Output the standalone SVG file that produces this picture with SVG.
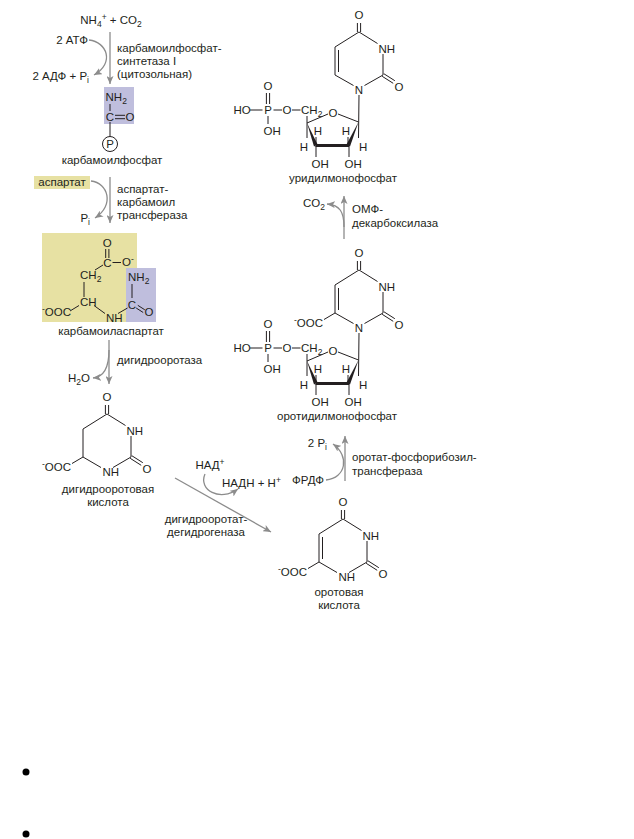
<svg xmlns="http://www.w3.org/2000/svg" width="634" height="839" viewBox="0 0 634 839">
<defs>
<style>
text{font-family:"Liberation Sans",Arial,sans-serif;font-size:11.5px;fill:#231f20}
.m{text-anchor:middle}
.e{text-anchor:end}
.b{stroke:#231f20;stroke-width:1;fill:none}
.bb{stroke:#231f20;stroke-width:3;fill:none}
.w{fill:#231f20;stroke:none}
.a{stroke:#8c8c8c;stroke-width:1.3;fill:none}
.s{font-size:8.5px}
</style>
<marker id="ah" markerUnits="userSpaceOnUse" markerWidth="9" markerHeight="7" refX="8" refY="3.5" orient="auto">
<path d="M0,0 L8,3.5 L0,7 L2,3.5 z" fill="#8c8c8c"/>
</marker>
</defs>
<rect width="634" height="839" fill="#ffffff"/>

<!-- connectors -->
<g id="connectors">
<line class="a" x1="110" y1="32" x2="110" y2="84" marker-end="url(#ah)"/>
<path class="a" d="M89,40 C107,42 115,63 94,75" marker-end="url(#ah)"/>
<line class="a" x1="110" y1="177" x2="110" y2="223" marker-end="url(#ah)"/>
<path class="a" d="M91,181 C108,183 115,205 95,218" marker-end="url(#ah)"/>
<line class="a" x1="109" y1="340" x2="109" y2="384" marker-end="url(#ah)"/>
<path class="a" d="M109,350 C109,366 104,377 93,378" marker-end="url(#ah)"/>
<line class="a" x1="175" y1="478" x2="271" y2="532" marker-end="url(#ah)"/>
<path class="a" d="M205,474 C198,490 220,502 238,489" marker-end="url(#ah)"/>
<line class="a" x1="345" y1="481" x2="345" y2="436" marker-end="url(#ah)"/>
<path class="a" d="M326,480 C346,478 350,456 333,444" marker-end="url(#ah)"/>
<line class="a" x1="344" y1="239" x2="344" y2="196" marker-end="url(#ah)"/>
<path class="a" d="M344,227 C344,212 340,205 327,204" marker-end="url(#ah)"/>
</g>

<!-- reaction labels -->
<g id="labels">
<text x="111" y="24" class="m">NH<tspan class="s" dy="3">4</tspan><tspan class="s" dy="-7">+</tspan><tspan dy="4"> + CO</tspan><tspan class="s" dy="3">2</tspan></text>
<text x="88" y="44" class="e">2 АТФ</text>
<text x="89" y="80" class="e">2 АДФ + P<tspan class="s" dy="3">i</tspan></text>
<text x="117" y="52">карбамоилфосфат-<tspan x="117" dy="13">синтетаза I</tspan><tspan x="117" dy="13">(цитозольная)</tspan></text>
<text x="90" y="222" class="e">P<tspan class="s" dy="3">i</tspan></text>
<text x="117" y="193">аспартат-<tspan x="117" dy="13">карбамоил</tspan><tspan x="117" dy="13">трансфераза</tspan></text>
<text x="117" y="364">дигидрооротаза</text>
<text x="90" y="382" class="e">H<tspan class="s" dy="3">2</tspan><tspan dy="-3">O</tspan></text>
<text x="210" y="469" class="m">НАД<tspan class="s" dy="-4">+</tspan></text>
<text x="222" y="487">НАДН + Н<tspan class="s" dy="-4">+</tspan></text>
<text x="206" y="523" class="m">дигидрооротат-<tspan x="206" dy="13">дегидрогеназа</tspan></text>
<text x="327" y="447" class="e">2 P<tspan class="s" dy="3">i</tspan></text>
<text x="324" y="484" class="e">ФРДФ</text>
<text x="352" y="461">оротат-фосфорибозил-<tspan x="352" dy="14">трансфераза</tspan></text>
<text x="325" y="207" class="e">CO<tspan class="s" dy="3">2</tspan></text>
<text x="352" y="213">ОМФ-<tspan x="352" dy="14">декарбоксилаза</tspan></text>
</g>

<!-- carbamoyl phosphate -->
<g id="carbamoylphosphate">
<rect x="104" y="87" width="30" height="37" fill="#bfbedd"/>
<text x="105.5" y="101">NH<tspan class="s" dy="3">2</tspan></text>
<line class="b" x1="110" y1="104" x2="110" y2="111"/>
<text x="110" y="121" class="m">C</text>
<line class="b" x1="115" y1="115.3" x2="125" y2="115.3"/>
<line class="b" x1="115" y1="118.7" x2="125" y2="118.7"/>
<text x="130" y="121" class="m">O</text>
<line class="b" x1="110" y1="122" x2="110" y2="136.5"/>
<circle cx="110" cy="144" r="7.5" fill="none" stroke="#231f20" stroke-width="1"/>
<text x="110" y="148" class="m">P</text>
<text x="112" y="164" class="m">карбамоилфосфат</text>
</g>

<!-- aspartate -->
<g id="aspartate">
<rect x="34" y="176" width="56" height="13" fill="#e7e1a3"/>
<text x="62" y="186" class="m">аспартат</text>
</g>

<!-- carbamoyl aspartate -->
<g id="carbamoylaspartate">
<rect x="42" y="233" width="95" height="89" fill="#e7e1a3"/>
<rect x="126" y="268" width="30" height="54" fill="#bfbedd"/>
<text x="107.3" y="247" class="m">O</text>
<line class="b" x1="105.7" y1="249" x2="105.7" y2="258"/>
<line class="b" x1="108.9" y1="249" x2="108.9" y2="258"/>
<text x="107.3" y="267" class="m">C</text>
<line class="b" x1="112.5" y1="262.5" x2="121" y2="262.5"/>
<text x="122" y="265.5">O<tspan class="s" dy="-4">-</tspan></text>
<line class="b" x1="95" y1="270" x2="103" y2="265"/>
<text x="80" y="279">CH<tspan class="s" dy="3">2</tspan></text>
<line class="b" x1="84" y1="282" x2="84" y2="297"/>
<text x="80" y="306">CH</text>
<text x="71" y="316" class="e"><tspan class="s" dy="-4">-</tspan><tspan dy="4">OOC</tspan></text>
<line class="b" x1="70" y1="311" x2="79" y2="305.5"/>
<line class="b" x1="94" y1="305.5" x2="105" y2="313.5"/>
<text x="106" y="322">NH</text>
<line class="b" x1="118" y1="313.5" x2="127.5" y2="308"/>
<text x="132" y="309" class="m">C</text>
<text x="128" y="281">NH<tspan class="s" dy="3">2</tspan></text>
<line class="b" x1="132" y1="284" x2="132" y2="298"/>
<line class="b" x1="137.8" y1="305.3" x2="144.8" y2="309.8"/>
<line class="b" x1="136.2" y1="308" x2="143.2" y2="312.5"/>
<text x="149" y="316" class="m">O</text>
<text x="111" y="335" class="m">карбамоиласпартат</text>
</g>

<!-- dihydroorotate -->
<g id="dihydroorotate">
<g transform="translate(107,414)">
<line class="b" x1="0" y1="0" x2="-24" y2="15"/>
<line class="b" x1="-24" y1="15" x2="-24" y2="43"/>
<line class="b" x1="-24" y1="43" x2="-6" y2="53.5"/>
<line class="b" x1="6" y1="53.5" x2="24" y2="43"/>
<line class="b" x1="24" y1="43" x2="24" y2="22"/>
<line class="b" x1="18.5" y1="11.5" x2="0" y2="0"/>
<line class="b" x1="-1.6" y1="-9" x2="-1.6" y2="0"/>
<line class="b" x1="1.6" y1="-9" x2="1.6" y2="0"/>
<line class="b" x1="23.2" y1="44.3" x2="34.2" y2="51.3"/>
<line class="b" x1="24.8" y1="41.7" x2="35.8" y2="48.7"/>
<line class="b" x1="-24" y1="43" x2="-35" y2="49.5"/>
<text x="0" y="-13" class="m">O</text>
<text x="19.5" y="21">NH</text>
<text x="40" y="59" class="m">O</text>
<text x="-4.5" y="62">NH</text>
<text x="-36" y="57" class="e"><tspan class="s" dy="-4">-</tspan><tspan dy="4">OOC</tspan></text>
</g>
<text x="108" y="493" class="m">дигидрооротовая<tspan x="108" dy="13">кислота</tspan></text>
</g>

<!-- orotic acid -->
<g id="orotate">
<g transform="translate(343,519)">
<line class="b" x1="0" y1="0" x2="-24" y2="15"/>
<line class="b" x1="-24" y1="15" x2="-24" y2="43"/>
<line class="b" x1="-20.5" y1="18" x2="-20.5" y2="40"/>
<line class="b" x1="-24" y1="43" x2="-6" y2="53.5"/>
<line class="b" x1="6" y1="53.5" x2="24" y2="43"/>
<line class="b" x1="24" y1="43" x2="24" y2="22"/>
<line class="b" x1="18.5" y1="11.5" x2="0" y2="0"/>
<line class="b" x1="-1.6" y1="-9" x2="-1.6" y2="0"/>
<line class="b" x1="1.6" y1="-9" x2="1.6" y2="0"/>
<line class="b" x1="23.2" y1="44.3" x2="34.2" y2="51.3"/>
<line class="b" x1="24.8" y1="41.7" x2="35.8" y2="48.7"/>
<line class="b" x1="-24" y1="43" x2="-35" y2="49.5"/>
<text x="0" y="-13" class="m">O</text>
<text x="19.5" y="21">NH</text>
<text x="40" y="59" class="m">O</text>
<text x="-4.5" y="62">NH</text>
<text x="-36" y="57" class="e"><tspan class="s" dy="-4">-</tspan><tspan dy="4">OOC</tspan></text>
</g>
<text x="339" y="596" class="m">оротовая<tspan x="339" dy="13">кислота</tspan></text>
</g>

<!-- orotidine monophosphate -->
<g id="omp">
<g transform="translate(359,270)">
<line class="b" x1="0" y1="0" x2="-24" y2="15"/>
<line class="b" x1="-24" y1="15" x2="-24" y2="43"/>
<line class="b" x1="-20.5" y1="18" x2="-20.5" y2="40"/>
<line class="b" x1="-24" y1="43" x2="-5.5" y2="53.5"/>
<line class="b" x1="5.5" y1="53.5" x2="24" y2="43"/>
<line class="b" x1="24" y1="43" x2="24" y2="22"/>
<line class="b" x1="18.5" y1="11.5" x2="0" y2="0"/>
<line class="b" x1="-1.6" y1="-9" x2="-1.6" y2="0"/>
<line class="b" x1="1.6" y1="-9" x2="1.6" y2="0"/>
<line class="b" x1="23.2" y1="44.3" x2="34.2" y2="51.3"/>
<line class="b" x1="24.8" y1="41.7" x2="35.8" y2="48.7"/>
<line class="b" x1="-24" y1="43" x2="-35" y2="49.5"/>
<text x="0" y="-13" class="m">O</text>
<text x="19.5" y="21">NH</text>
<text x="40" y="59" class="m">O</text>
<text x="0" y="62" class="m">N</text>
<text x="-36" y="57" class="e"><tspan class="s" dy="-4">-</tspan><tspan dy="4">OOC</tspan></text>
</g>
<g transform="translate(0,238)">
<text x="242" y="114" class="m">HO</text>
<line class="b" x1="250" y1="110" x2="262.5" y2="110"/>
<text x="268" y="114" class="m">P</text>
<text x="268" y="90" class="m">O</text>
<line class="b" x1="266.4" y1="93" x2="266.4" y2="104"/>
<line class="b" x1="269.6" y1="93" x2="269.6" y2="104"/>
<line class="b" x1="268" y1="116" x2="268" y2="124"/>
<text x="263.5" y="135">OH</text>
<line class="b" x1="273.5" y1="110" x2="282" y2="110"/>
<text x="287" y="114" class="m">O</text>
<line class="b" x1="292" y1="110" x2="300.5" y2="110"/>
<text x="301" y="114">CH<tspan class="s" dy="3">2</tspan></text>
<line class="b" x1="307" y1="116" x2="307" y2="138"/>
<line class="b" x1="307" y1="123" x2="328" y2="114"/>
<text x="333" y="117" class="m">O</text>
<line class="b" x1="338" y1="114" x2="358.5" y2="122"/>
<line class="b" x1="359" y1="95" x2="358.5" y2="138"/>
<polygon class="w" points="307,123 314,146.5 317.6,144.5"/>
<line class="bb" x1="315.5" y1="145.5" x2="349" y2="145.5"/>
<polygon class="w" points="358.5,122 346.5,144.5 350,146.5"/>
<line class="b" x1="316" y1="145" x2="316" y2="137"/>
<line class="b" x1="348" y1="145" x2="348" y2="137"/>
<line class="b" x1="316" y1="146" x2="316" y2="157"/>
<line class="b" x1="349" y1="146" x2="349" y2="157"/>
<text x="318" y="135" class="m">H</text>
<text x="346" y="135" class="m">H</text>
<text x="308" y="151" class="e">H</text>
<text x="359" y="151">H</text>
<text x="311.5" y="168">OH</text>
<text x="344.5" y="168">OH</text>
</g>
<text x="337" y="420" class="m">оротидилмонофосфат</text>
</g>

<!-- uridine monophosphate -->
<g id="ump">
<g transform="translate(359,32)">
<line class="b" x1="0" y1="0" x2="-24" y2="15"/>
<line class="b" x1="-24" y1="15" x2="-24" y2="43"/>
<line class="b" x1="-20.5" y1="18" x2="-20.5" y2="40"/>
<line class="b" x1="-24" y1="43" x2="-5.5" y2="53.5"/>
<line class="b" x1="5.5" y1="53.5" x2="24" y2="43"/>
<line class="b" x1="24" y1="43" x2="24" y2="22"/>
<line class="b" x1="18.5" y1="11.5" x2="0" y2="0"/>
<line class="b" x1="-1.6" y1="-9" x2="-1.6" y2="0"/>
<line class="b" x1="1.6" y1="-9" x2="1.6" y2="0"/>
<line class="b" x1="23.2" y1="44.3" x2="34.2" y2="51.3"/>
<line class="b" x1="24.8" y1="41.7" x2="35.8" y2="48.7"/>
<text x="0" y="-13" class="m">O</text>
<text x="19.5" y="21">NH</text>
<text x="40" y="59" class="m">O</text>
<text x="0" y="62" class="m">N</text>
</g>
<text x="242" y="114" class="m">HO</text>
<line class="b" x1="250" y1="110" x2="262.5" y2="110"/>
<text x="268" y="114" class="m">P</text>
<text x="268" y="90" class="m">O</text>
<line class="b" x1="266.4" y1="93" x2="266.4" y2="104"/>
<line class="b" x1="269.6" y1="93" x2="269.6" y2="104"/>
<line class="b" x1="268" y1="116" x2="268" y2="124"/>
<text x="263.5" y="135">OH</text>
<line class="b" x1="273.5" y1="110" x2="282" y2="110"/>
<text x="287" y="114" class="m">O</text>
<line class="b" x1="292" y1="110" x2="300.5" y2="110"/>
<text x="301" y="114">CH<tspan class="s" dy="3">2</tspan></text>
<line class="b" x1="307" y1="116" x2="307" y2="138"/>
<line class="b" x1="307" y1="123" x2="328" y2="114"/>
<text x="333" y="117" class="m">O</text>
<line class="b" x1="338" y1="114" x2="358.5" y2="122"/>
<line class="b" x1="359" y1="95" x2="358.5" y2="138"/>
<polygon class="w" points="307,123 314,146.5 317.6,144.5"/>
<line class="bb" x1="315.5" y1="145.5" x2="349" y2="145.5"/>
<polygon class="w" points="358.5,122 346.5,144.5 350,146.5"/>
<line class="b" x1="316" y1="145" x2="316" y2="137"/>
<line class="b" x1="348" y1="145" x2="348" y2="137"/>
<line class="b" x1="316" y1="146" x2="316" y2="157"/>
<line class="b" x1="349" y1="146" x2="349" y2="157"/>
<text x="318" y="135" class="m">H</text>
<text x="346" y="135" class="m">H</text>
<text x="308" y="151" class="e">H</text>
<text x="359" y="151">H</text>
<text x="311.5" y="168">OH</text>
<text x="344.5" y="168">OH</text>
<text x="343" y="182" class="m">уридилмонофосфат</text>
</g>

<g id="bullets">
<circle cx="26" cy="772" r="3.5" fill="#000"/>
<circle cx="26" cy="834" r="3.5" fill="#000"/>
</g>
</svg>
